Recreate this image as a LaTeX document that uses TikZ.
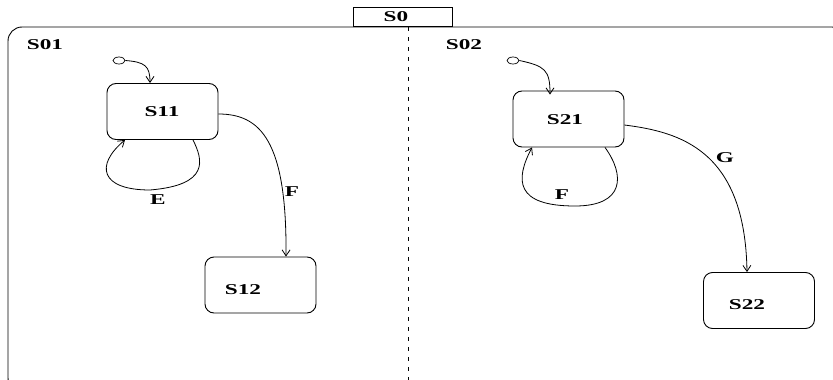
\documentclass[tikz,border=0pt]{standalone}
\usepackage{fontspec}
\setmainfont{Liberation Serif}
\usetikzlibrary{arrows.meta,shapes.geometric}
\newcommand{\lbl}[1]{\scalebox{1.55}[1]{\bfseries #1}}
\tikzset{
  statebox/.style={draw,rounded corners=9pt,minimum width=111pt,minimum height=56pt,inner sep=0pt,line width=0.9pt},
  lab/.style={font=\fontsize{15}{16}\selectfont,inner sep=0pt},
  trans/.style={line width=0.8pt,-{Straight Barb[length=6pt,width=8pt,line width=0.8pt]}},
  initst/.style={draw,ellipse,minimum width=12pt,minimum height=7pt,inner sep=0pt,line width=0.7pt}
}
\begin{document}
\begin{tikzpicture}[x=1pt,y=-1pt]
\useasboundingbox (0,0) rectangle (833,380);
\clip (0,0) rectangle (833,380);
% outer composite state
\draw[line width=0.9pt,rounded corners=14pt] (8,27) rectangle (846,392);
\node[draw,line width=0.9pt,minimum width=99pt,minimum height=19pt,inner sep=0pt,anchor=south west] (s0tab) at (353,27) {};
\node[lab] (s0) at (396,17) {\lbl{S0}};
\coordinate (dtop) at (408,27);
\coordinate (dbot) at (408,380);
\draw[line width=0.9pt,dash pattern=on 4pt off 6pt] (dtop) -- (dbot);
\node[lab] (s01) at (45,45) {\lbl{S01}};
\node[lab] (s02) at (464,45) {\lbl{S02}};
% states
\node[statebox] (S11) at (162.5,111.5) {};
\node[lab] at (162,112) {\lbl{S11}};
\node[statebox] (S12) at (260.5,285) {};
\node[lab] at (243,290) {\lbl{S12}};
\node[statebox] (S21) at (568.5,119) {};
\node[lab] at (565,120) {\lbl{S21}};
\node[statebox] (S22) at (759,300.5) {};
\node[lab] at (747,305) {\lbl{S22}};
% initial pseudostates
\node[initst] (i1) at (119,60.5) {};
\node[initst] (i2) at (513,60.5) {};
\draw[trans] (i1.east) .. controls (145,62) and (150,66) .. (S11.north -| 150,0);
\draw[trans] (i2.east) .. controls (545,66) and (550,70) .. ([yshift=-4pt]S21.north -| 550,0);
% self loops
\draw[trans] (S11.south -| 193,0) .. controls (203,160) and (210,185) .. (150,190)
  .. controls (100,190) and (95,165) .. (S11.south -| 125,0);
\node[lab] (E) at (158,200) {\lbl{E}};
\draw[trans] (S21.south -| 605,0) .. controls (625,175) and (625,206) .. (575,206)
  .. controls (515,206) and (515,180) .. (S21.south -| 532,0);
\node[lab] (F2) at (562,195) {\lbl{F}};
% transitions
\draw[trans] (S11.east |- 0,114) .. controls (260,114) and (287,140) .. (S12.north -| 286,0);
\node[lab] (F1) at (292,192) {\lbl{F}};
\draw[trans] (S21.east |- 0,125) .. controls (680,132) and (745,150) .. (S22.north -| 747,0);
\node[lab] (G) at (725,158) {\lbl{G}};
\end{tikzpicture}
\end{document}
